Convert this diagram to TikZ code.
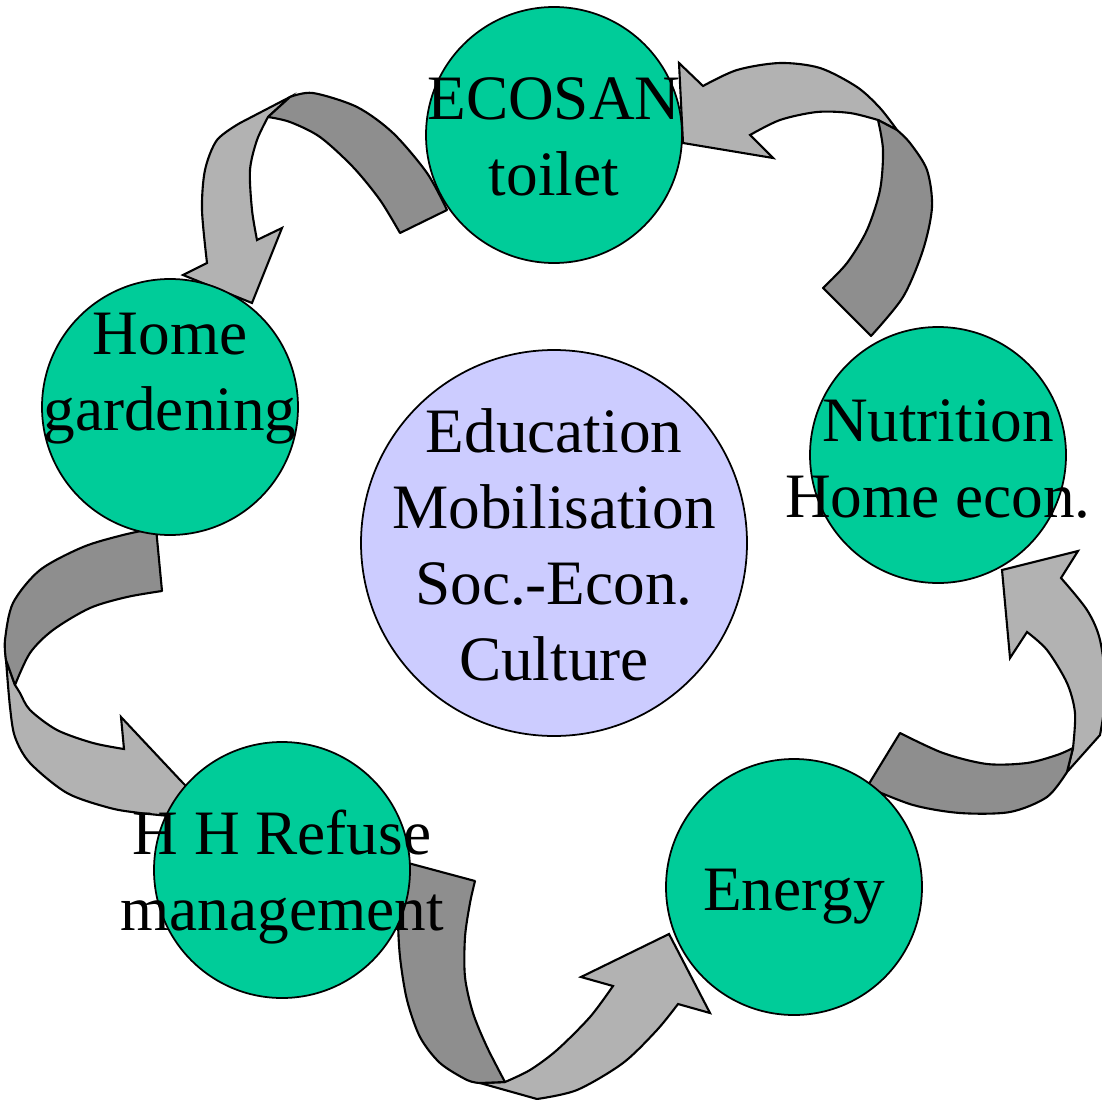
\documentclass[tikz,border=0pt]{standalone}
\usepackage{fontspec}
\setmainfont{Liberation Serif}
\definecolor{ecogreen}{RGB}{0,204,153}
\definecolor{hubblue}{RGB}{204,204,255}
\definecolor{twistdark}{RGB}{142,142,142}
\definecolor{twistlight}{RGB}{178,178,178}

\begin{document}
\begin{tikzpicture}[
	x=0.1mm, y=-0.1mm,
	bubble/.style={circle, draw, line width=0.5pt, fill=ecogreen, minimum size=25.6mm, inner sep=0pt},
	hub/.style={circle, draw, line width=0.5pt, fill=hubblue, minimum size=38.6mm, inner sep=0pt},
	tag/.style={align=center, inner sep=0pt, font=\fontsize{18}{21.6}\selectfont},
	darkband/.style={fill=twistdark, draw=black, line width=0.6pt, line join=round},
	lightband/.style={fill=twistlight, draw=black, line width=0.6pt, line join=miter}
	]

	\useasboundingbox (0,0) rectangle (1102,1099);

	% twisted arrows (behind the circles)
	% ecosan -> garden
	\filldraw[lightband] (240,123) -- (290,97) -- (268,117) -- plot[smooth] coordinates {(268,117) (257,140) (250,170) (252,210) (257,240)} -- (282,228) -- (252,303) -- (183,275) -- (207,263) -- plot[smooth] coordinates {(207,263) (202,210) (205,170) (217,140) (240,123)} -- cycle;
	\filldraw[darkband] (447,210) -- plot[smooth] coordinates {(447,210) (427,173) (393,133) (357,107) (313,93) (290,97)} -- (268,117) -- plot[smooth] coordinates {(268,117) (290,122) (320,137) (353,167) (380,200) (400,233)} -- cycle;

	% nutri -> ecosan
	\filldraw[lightband] (897,130) -- plot[smooth] coordinates {(897,130) (880,108) (857,87) (820,68) (780,63) (737,70) (703,86)} -- (679,63) -- (683,143) -- (773,158) -- (750,135) -- plot[smooth] coordinates {(750,135) (780,120) (817,112) (850,113) (878,120)} -- cycle;
	\filldraw[darkband] (823,288) -- (871,336) -- plot[smooth] coordinates {(871,336) (903,297) (923,250) (932,207) (927,170) (910,143) (897,130)} -- (878,120) -- plot[smooth] coordinates {(878,120) (883,150) (880,190) (867,230) (847,263) (823,288)} -- cycle;

	% garden -> refuse
	\filldraw[lightband] (6,660) -- plot[smooth] coordinates {(6,660) (10,707) (15,737) (30,763) (67,793) (110,808) (140,813) (170,816)} -- (200,800) -- (182,782) -- (121,717) -- (124,749) -- plot[smooth] coordinates {(124,749) (93,743) (57,730) (30,710) (20,693) (15,685)} -- cycle;
	\filldraw[darkband] (156,528) -- (162,591) -- plot[smooth] coordinates {(162,591) (127,597) (90,608) (53,630) (30,653) (15,685)} -- (6,660) -- plot[smooth] coordinates {(6,660) (5,640) (13,603) (40,570) (83,547) (123,535) (156,528)} -- cycle;

	% refuse -> energy
	\filldraw[lightband] (480,1083) -- (537,1099) -- plot[smooth] coordinates {(537,1099) (577,1090) (623,1063) (657,1030) (678,1004)} -- (710,1013) -- (669,934) -- (581,977) -- (613,986) -- plot[smooth] coordinates {(613,986) (590,1017) (557,1050) (530,1070) (505,1082)} -- cycle;
	\filldraw[darkband] (408,863) -- (475,881) -- plot[smooth] coordinates {(475,881) (470,903) (465,937) (465,977) (473,1013) (487,1047) (505,1082)} -- (480,1083) -- plot[smooth] coordinates {(480,1083) (467,1080) (440,1063) (420,1037) (407,1000) (400,957) (398,917) (400,883) (408,863)} -- cycle;

	% energy -> nutri
	\filldraw[lightband] (1073,748) -- plot[smooth] coordinates {(1073,748) (1075,713) (1067,683) (1047,650) (1027,632)} -- (1010,658) -- (1002,570) -- (1078,551) -- (1061,578) -- plot[smooth] coordinates {(1061,578) (1087,610) (1100,640) (1106,690) (1100,735)} -- (1067,772) -- cycle;
	\filldraw[darkband] (867,787) -- (900,733) -- plot[smooth] coordinates {(900,733) (943,753) (987,764) (1027,763) (1057,755) (1073,748)} -- (1067,772) -- plot[smooth] coordinates {(1067,772) (1047,797) (1010,812) (960,813) (913,805) (867,787)} -- cycle;

	% circles
	\node[bubble] (ecosan) at (554,135) {};
	\node[bubble] (garden) at (170,407) {};
	\node[bubble] (nutri) at (938,455) {};
	\node[bubble] (energy) at (794,887) {};
	\node[bubble] (refuse) at (282,870) {};
	\node[hub] (edu) at (554,543) {};

	% texts (base = last line)
	\node[tag, anchor=base] (ecosantxt) at (554,195) {ECOSAN\\toilet};
	\node[tag, anchor=base] (gardentxt) at (170,430) {Home\\gardening};
	\node[tag, anchor=base] (nutritxt) at (938,517) {Nutrition\\Home econ.};
	\node[tag, anchor=base] (energytxt) at (794,910) {Energy};
	\node[tag, anchor=base] (refusetxt) at (282,930) {H H Refuse\\management};
	\node[tag, anchor=base] (edutxt) at (554,680) {Education\\Mobilisation\\Soc.-Econ.\\Culture};

\end{tikzpicture}
\end{document}
